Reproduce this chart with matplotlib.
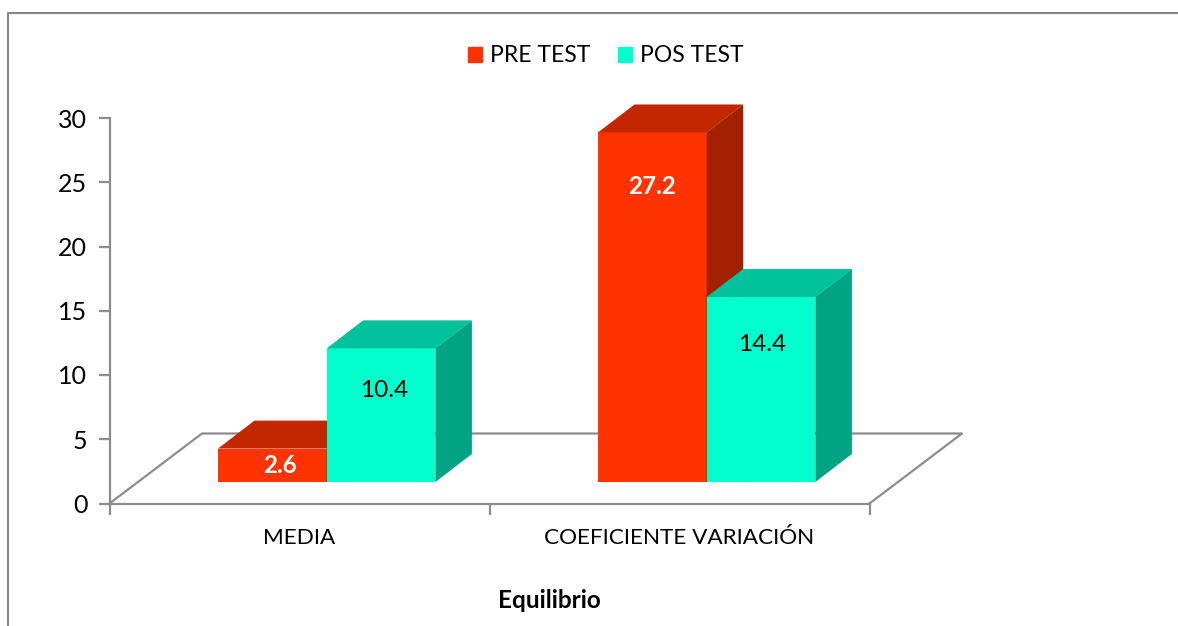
import matplotlib
matplotlib.use('Agg')
import matplotlib.pyplot as plt
from matplotlib.lines import Line2D
from matplotlib.patches import Patch, Polygon

categories = ['MEDIA', 'COEFICIENTE VARIACIÓN']
pre_test = [2.6, 27.2]
pos_test = [10.4, 14.4]
series_names = ['PRE TEST', 'POS TEST']
y_ticks = [0, 5, 10, 15, 20, 25, 30]

W, H = 1178, 626
# pixel layout of the plot box
left, right, top, bottom = 109.5, 869.5, 118, 503.5
px_x = (right - left) / 2
px_y = (bottom - top) / 30

plt.rcParams['font.family'] = ['Lato', 'DejaVu Sans']

fig = plt.figure(figsize=(W / 100, H / 100), dpi=100)
ax = fig.add_axes([left / W, 1 - bottom / H, (right - left) / W, (bottom - top) / H])
ax.set_xlim(0, 2)
ax.set_ylim(0, 30)

grey = '#8c8c8c'
for s in ['top', 'right']:
    ax.spines[s].set_visible(False)
for s in ['left', 'bottom']:
    ax.spines[s].set_color(grey)
    ax.spines[s].set_linewidth(1.6)

ax.set_yticks(y_ticks)
ax.set_xticks([0, 1, 2])
ax.set_xticklabels([])
ax.set_xticks([0.5, 1.5], minor=True)
ax.set_xticklabels(categories, minor=True, fontsize=16.2, color='black')
ax.tick_params(axis='x', which='minor', length=0, pad=18)
ax.tick_params(axis='x', which='major', length=8, width=1.6, color=grey)
ax.tick_params(axis='y', length=8, width=1.6, color=grey, labelsize=18, pad=8)

# floor of the 3D box
floor_dx = 92.5 / px_x
floor_dy = 70 / px_y
ax.add_line(Line2D([0, floor_dx, 2 + floor_dx, 2], [0, floor_dy, floor_dy, 0],
                   color=grey, lw=1.6, clip_on=False, zorder=1.5))

# bar geometry
bar_w = 108.7 / px_x
lift = 21.5 / px_y
depth_x = 36.5 / px_x
depth_y = 28 / px_y
centre_off = 0.0715


def bar3d(x0, val, front, top_col, side):
    ax.bar(x0, val, bar_w, bottom=lift, align='edge', color=front, zorder=3, clip_on=False)
    x1 = x0 + bar_w
    y1 = lift + val
    ax.add_patch(Polygon([(x0, y1), (x1, y1), (x1 + depth_x, y1 + depth_y), (x0 + depth_x, y1 + depth_y)],
                         closed=True, fc=top_col, ec='none', zorder=3, clip_on=False))
    ax.add_patch(Polygon([(x1, lift), (x1 + depth_x, lift + depth_y), (x1 + depth_x, y1 + depth_y), (x1, y1)],
                         closed=True, fc=side, ec='none', zorder=3, clip_on=False))


pre_cols = ('#ff3300', '#c22700', '#a32100')
pos_cols = ('#00ffcc', '#00c29c', '#00a383')
for i in range(len(categories)):
    mid = i + 0.5 + centre_off
    bar3d(mid - bar_w, pre_test[i], *pre_cols)
    bar3d(mid, pos_test[i], *pos_cols)

# data labels sit by hand on the front faces
pre_drop = [17, 54]
pos_drop = [42, 48]
pre_shift = [8, 0]
pos_shift = [3, 1]
for i in range(len(categories)):
    mid = i + 0.5 + centre_off
    ax.text(mid - bar_w / 2 + pre_shift[i] / px_x, lift + pre_test[i] - pre_drop[i] / px_y,
            f'{pre_test[i]:.1f}', color='white', fontsize=17.5, fontweight='bold',
            ha='center', va='center', zorder=5)
    ax.text(mid + bar_w / 2 + pos_shift[i] / px_x, lift + pos_test[i] - pos_drop[i] / px_y,
            f'{pos_test[i]:.1f}', color='black', fontsize=17.5,
            ha='center', va='center', zorder=5)

fig.text(549 / W, 1 - 601 / H, 'Equilibrio', fontsize=17.5, fontweight='bold', ha='center', va='center')

fig.legend(handles=[Patch(color=pre_cols[0], label=series_names[0]),
                    Patch(color=pos_cols[0], label=series_names[1])],
           loc='center', bbox_to_anchor=(606 / W, 1 - 56 / H), ncol=2, frameon=False,
           fontsize=16.5, handlelength=0.6, handleheight=0.6, handletextpad=0.35, columnspacing=1.2)

# outer chart border, cut by the image on the right and bottom
frame = '#868686'
fig.add_artist(Line2D([7.5 / W, 7.5 / W, 1], [0, 1 - 12.5 / H, 1 - 12.5 / H], color=frame, lw=1.5))

fig.savefig('out.png', dpi=100)
